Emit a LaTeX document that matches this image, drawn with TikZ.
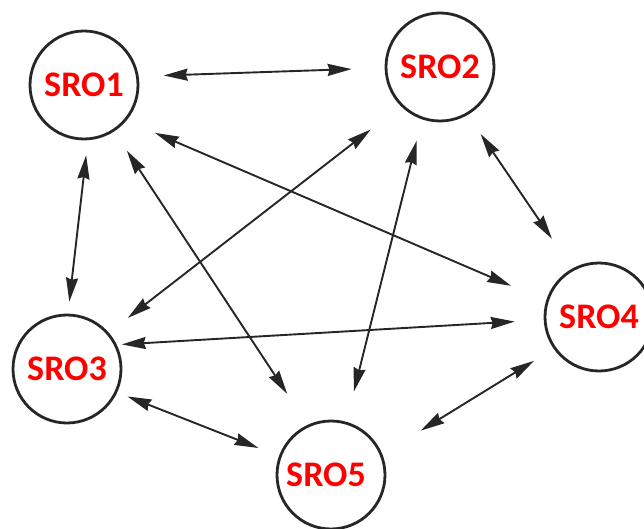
\documentclass[tikz,border=0pt]{standalone}
\usepackage{fontspec}
\setmainfont{Carlito}
\usetikzlibrary{arrows.meta}
\begin{document}
\begin{tikzpicture}[x=1pt,y=-1pt,
  sro/.style={circle,draw=black!85,line width=2.8pt,minimum size=108pt,inner sep=0pt,
    font=\fontsize{36}{40}\selectfont\bfseries,text=red},
  tip/.tip={Stealth[length=24pt,width=12pt,inset=2pt]},
  link/.style={line width=1.9pt,draw=black!85,{tip}-{tip}}]
\useasboundingbox (0,0) rectangle (644,529);
\node[sro] (s1) at (84,85) {SRO1};
\node[sro] (s2) at (440,67) {SRO2};
\node[sro] (s3) at (67,369) {SRO3};
\node[sro] (s4) at (599,317) {SRO4};
\node[sro] (s5) at (331,475) {\hspace*{-10pt}SRO5};
\draw[link,shorten <=25pt,shorten >=33pt] (s1.9) -- (s2.181);
\draw[link,shorten <=15pt,shorten >=12pt] (s1.274) -- (s3.89);
\draw[link,shorten <=23pt,shorten >=37pt] (s1.303.5) -- (s5.115);
\draw[link,shorten <=31pt,shorten >=38pt] (s1.320) -- (s4.163);
\draw[link,shorten <=38pt,shorten >=24pt] (s2.225) -- (s3.41);
\draw[link,shorten <=22pt,shorten >=31pt] (s2.251) -- (s5.74);
\draw[link,shorten <=23pt,shorten >=36pt] (s2.300) -- (s4.119);
\draw[link,shorten <=5pt,shorten >=29pt] (s3.26) -- (s4.183);
\draw[link,shorten <=11pt,shorten >=22pt] (s3.335) -- (s5.160);
\draw[link,shorten <=23pt,shorten >=45pt] (s4.215) -- (s5.22);
\end{tikzpicture}
\end{document}
